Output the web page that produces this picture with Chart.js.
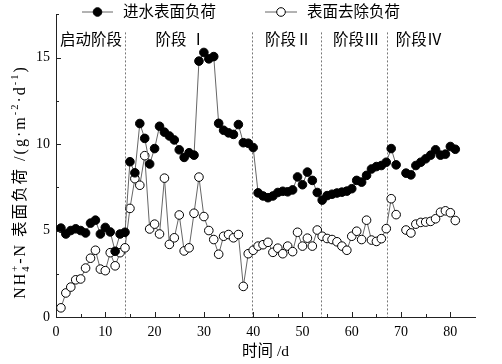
<!DOCTYPE html>
<html>
<head>
<meta charset="utf-8">
<script src="https://cdn.jsdelivr.net/npm/chart.js@4.4.0/dist/chart.umd.min.js"></script>
<style>
html, body { margin: 0; padding: 0; background: #fff; }
canvas { display: block; }
</style>
</head>
<body>
<canvas id="loadChart" width="502" height="364"></canvas>
<script>
// Tid (d). Dag 70 saknas i mätningen -> null ger ett avbrott i linjen.
const days = [
    1, 2, 3, 4, 5, 6, 7, 8, 9, 10, 11, 12, 13, 14,
    15, 16, 17, 18, 19, 20, 21, 22, 23, 24, 25, 26, 27, 28, 29, 30,
    31, 32, 33, 34, 35, 36, 37, 38, 39, 40,
    41, 42, 43, 44, 45, 46, 47, 48, 49, 50, 51, 52, 53,
    54, 55, 56, 57, 58, 59, 60, 61, 62, 63, 64, 65, 66, 67,
    68, 69, 70, 71, 72, 73, 74, 75, 76, 77, 78, 79, 80, 81
];

// 进水表面负荷 (g·m-2·d-1)
const inflowLoad = [
    5.14, 4.8, 5.0, 5.1, 5.0, 4.86, 5.43, 5.6, 4.8, 5.18, 4.92, 3.8, 4.8, 4.9,
    8.98, 8.34, 11.19, 10.33, 8.85, 9.74, 11.03, 10.69, 10.47, 10.24, 9.67, 9.23, 9.5, 9.36, 14.8, 15.3,
    14.93, 15.06, 11.2, 10.8, 10.65, 10.56, 11.13, 10.08, 10.05, 9.8,
    7.18, 7.0, 6.9, 7.0, 7.2, 7.27, 7.24, 7.35, 8.1, 7.65, 8.38, 7.9, 7.2,
    6.76, 7.02, 7.1, 7.17, 7.22, 7.28, 7.42, 7.9, 7.8, 8.19, 8.56, 8.7, 8.76, 8.95,
    9.74, 8.8, null, 8.32, 8.22, 8.76, 8.95, 9.15, 9.36, 9.67, 9.36, 9.42, 9.86, 9.7
];

// 表面去除负荷 (g·m-2·d-1)
const removalLoad = [
    0.53, 1.39, 1.73, 2.15, 2.2, 2.83, 3.4, 3.86, 2.77, 2.68, 3.72, 2.96, 3.72, 4.0,
    6.28, 8.0, 7.62, 9.33, 5.09, 5.37, 4.8, 8.03, 4.2, 4.58, 5.9, 3.82, 4.0, 6.0, 8.09, 5.81,
    5.0, 4.48, 3.63, 4.67, 4.77, 4.58, 4.77, 1.77, 3.66, 3.86,
    4.1, 4.18, 4.32, 3.74, 3.98, 3.66, 4.1, 3.78, 4.9, 4.1, 4.56, 4.1, 5.03,
    4.67, 4.54, 4.48, 4.35, 4.1, 3.86, 4.67, 4.96, 4.48, 5.6, 4.45, 4.37, 4.53, 5.11,
    6.84, 5.92, null, 5.03, 4.86, 5.37, 5.47, 5.49, 5.53, 5.68, 6.06, 6.14, 6.03, 5.58
];

const seriesNames = ["进水表面负荷", "表面去除负荷"];
const stageNames = ["启动阶段", "阶段 Ⅰ", "阶段Ⅱ", "阶段Ⅲ", "阶段Ⅳ"];
const stageBounds = [13.9, 39.8, 53.7, 67.1];

const xTicks = [0, 10, 20, 30, 40, 50, 60, 70, 80];
const xMinorTicks = [5, 15, 25, 35, 45, 55, 65, 75];
const yTicks = [0, 5, 10, 15];
const yMinorTicks = [2.5, 7.5, 12.5, 17.5];

const SERIF = '"Liberation Serif", "Noto Sans CJK SC", serif';
const LINE_GREY = "#666";

/** Gör {x, y}-punkter av dagar och värden. */
function toPoints(values) {
    return days.map((d, i) => ({ x: d, y: values[i] }));
}

/** Ritar en legendrad: linje, markör och text. */
function drawLegendItem(ctx, x1, x2, y, filled, text) {
    ctx.strokeStyle = LINE_GREY;
    ctx.lineWidth = 1;
    ctx.beginPath();
    ctx.moveTo(x1, y);
    ctx.lineTo(x2, y);
    ctx.stroke();

    ctx.beginPath();
    ctx.arc((x1 + x2) / 2, y, 4.3, 0, Math.PI * 2);
    ctx.fillStyle = filled ? "#000" : "#fff";
    ctx.fill();
    ctx.strokeStyle = "#000";
    ctx.stroke();

    ctx.fillStyle = "#000";
    ctx.font = "15.5px " + SERIF;
    ctx.textAlign = "left";
    ctx.textBaseline = "middle";
    ctx.fillText(text, x2 + 10, y + 1);
}

/** Y-axelns titel med sänkt/upphöjd text, roterad 90 grader. */
function drawYTitle(ctx, cx, cy) {
    const big = 16, small = 10.5, gap = 2;
    const parts = [
        { t: "NH", s: big, dy: 0 },
        { t: "4", s: small, dy: 4, sup: "+" },
        { t: "-N ", s: big, dy: 0 },
        { t: "表面负荷", s: big - 0.5, dy: 0 },
        { t: " /(g·m", s: big, dy: 0 },
        { t: "-2", s: small, dy: -7 },
        { t: "·d", s: big, dy: 0 },
        { t: "-1", s: small, dy: -7 },
        { t: ")", s: big, dy: 0 }
    ];

    ctx.save();
    ctx.translate(cx, cy);
    ctx.rotate(-Math.PI / 2);
    ctx.fillStyle = "#000";
    ctx.textAlign = "left";
    ctx.textBaseline = "alphabetic";

    // Mät bit för bit, med lite extra luft mellan tecknen.
    let total = 0;
    parts.forEach(p => {
        ctx.font = p.s + "px " + SERIF;
        p.w = ctx.measureText(p.t).width;
        if (p.sup) {
            p.w = Math.max(p.w, ctx.measureText(p.sup).width);
        }
        p.w += gap * [...p.t].length;
        total += p.w;
    });

    let x = -total / 2;
    const base = 5;
    parts.forEach(p => {
        ctx.font = p.s + "px " + SERIF;
        let cx2 = x;
        [...p.t].forEach(ch => {
            ctx.fillText(ch, cx2, base + p.dy);
            cx2 += ctx.measureText(ch).width + gap;
        });
        if (p.sup) {
            ctx.fillText(p.sup, x, base - 7);
        }
        x += p.w;
    });
    ctx.restore();
}

// Dekorationer: inåtvända tickar, streckade faslinjer, faser, legend, y-titel.
const decorPlugin = {
    id: "decor",
    beforeDatasetsDraw(chart) {
        const { ctx, chartArea, scales } = chart;
        ctx.save();
        ctx.strokeStyle = "#777";
        ctx.lineWidth = 1;
        ctx.setLineDash([2, 2]);
        stageBounds.forEach(b => {
            const px = Math.round(scales.x.getPixelForValue(b)) + 0.5;
            ctx.beginPath();
            ctx.moveTo(px, chartArea.top + 18);
            ctx.lineTo(px, chartArea.bottom);
            ctx.stroke();
        });
        ctx.restore();
    },
    afterDraw(chart) {
        const { ctx, chartArea, scales } = chart;
        const { left, bottom } = chartArea;
        ctx.save();
        ctx.strokeStyle = "#222";
        ctx.lineWidth = 1;
        ctx.beginPath();
        xTicks.forEach(v => {
            const px = Math.round(scales.x.getPixelForValue(v)) + 0.5;
            ctx.moveTo(px, bottom);
            ctx.lineTo(px, bottom - 5);
        });
        xMinorTicks.forEach(v => {
            const px = Math.round(scales.x.getPixelForValue(v)) + 0.5;
            ctx.moveTo(px, bottom);
            ctx.lineTo(px, bottom - 3);
        });
        yTicks.forEach(v => {
            const py = Math.round(scales.y.getPixelForValue(v)) + 0.5;
            ctx.moveTo(left, py);
            ctx.lineTo(left + 5, py);
        });
        yMinorTicks.forEach(v => {
            const py = Math.round(scales.y.getPixelForValue(v)) + 0.5;
            ctx.moveTo(left, py);
            ctx.lineTo(left + 3, py);
        });
        ctx.stroke();

        // Fasnamn
        const labelDays = [0.8, 20.2, 42.4, 56.2, 68.9];
        ctx.fillStyle = "#000";
        ctx.font = "15.5px " + SERIF;
        ctx.textAlign = "left";
        ctx.textBaseline = "middle";
        stageNames.forEach((name, i) => {
            ctx.fillText(name, scales.x.getPixelForValue(labelDays[i]), 41);
        });

        drawLegendItem(ctx, 82, 113, 12, true, seriesNames[0]);
        drawLegendItem(ctx, 265, 297, 12, false, seriesNames[1]);
        ctx.restore();

        drawYTitle(ctx, 20, 182);
    }
};

function createChart() {
    const ctx = document.getElementById("loadChart");

    new Chart(ctx, {
        type: "line",
        data: {
            datasets: [{
                label: seriesNames[0],
                data: toPoints(inflowLoad),
                borderColor: LINE_GREY,
                borderWidth: 1,
                pointRadius: 4.3,
                pointBackgroundColor: "#000",
                pointBorderColor: "#000",
                pointBorderWidth: 1,
                spanGaps: false,
                tension: 0
            }, {
                label: seriesNames[1],
                data: toPoints(removalLoad),
                borderColor: LINE_GREY,
                borderWidth: 1,
                pointRadius: 4.3,
                pointBackgroundColor: "#fff",
                pointBorderColor: "#000",
                pointBorderWidth: 1,
                spanGaps: false,
                tension: 0
            }]
        },
        options: {
            responsive: false,
            animation: false,
            layout: { padding: { left: 30, right: 27, top: 10, bottom: 0 } },
            plugins: {
                legend: { display: false },
                tooltip: { enabled: false }
            },
            scales: {
                x: {
                    type: "linear",
                    min: 0,
                    max: 85,
                    grid: { drawOnChartArea: false, drawTicks: false },
                    border: { display: true, color: "#222", width: 1 },
                    ticks: {
                        color: "#000",
                        padding: 7,
                        maxRotation: 0,
                        font: { family: SERIF, size: 14 }
                    },
                    afterBuildTicks: s => { s.ticks = xTicks.map(v => ({ value: v })); },
                    afterFit: s => { s.height = 47; },
                    title: {
                        display: true,
                        text: "时间 /d",
                        color: "#000",
                        font: { family: SERIF, size: 15.5 },
                        padding: { top: 0, bottom: 3 }
                    }
                },
                y: {
                    min: 0,
                    max: 17.5,
                    grid: { drawOnChartArea: false, drawTicks: false },
                    border: { display: true, color: "#222", width: 1 },
                    ticks: {
                        color: "#000",
                        padding: 6,
                        font: { family: SERIF, size: 14 }
                    },
                    afterBuildTicks: s => { s.ticks = yTicks.map(v => ({ value: v })); },
                    afterFit: s => { s.width = 26; }
                }
            }
        },
        plugins: [decorPlugin]
    });
}

createChart();
</script>
</body>
</html>
